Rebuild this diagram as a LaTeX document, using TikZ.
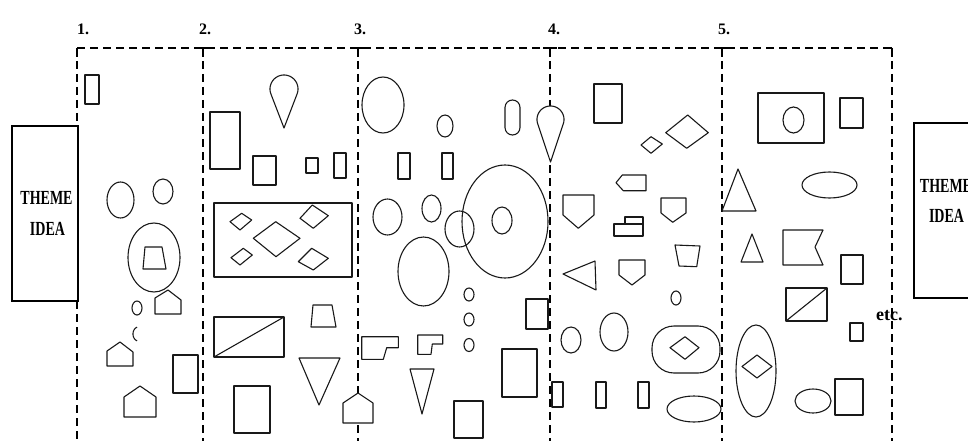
\documentclass[tikz,border=0pt]{standalone}
\usepackage{fontspec}
\setmainfont{Liberation Serif}
\newcommand\mydmd[8]{\draw[shp] (#1,#2) -- (#3,#4) -- (#5,#6) -- (#7,#8) -- cycle;}
\begin{document}
\begin{tikzpicture}[x=1pt,y=-1pt,
  shp/.style={draw=black!90, line width=1.1pt, line join=round},
  shpw/.style={shp, fill=white},
  dl/.style={draw=black, line width=1.2pt, dash pattern=on 8pt off 5pt},
  tick/.style={draw=black, line width=1.2pt},
  num/.style={font=\fontsize{16}{16}\selectfont\bfseries, anchor=base west, inner sep=0pt},
  themetxt/.style={font=\fontsize{20}{20}\selectfont\bfseries, anchor=base, inner sep=0pt, xscale=0.7},
  themebox/.style={draw=black, line width=2.5pt, fill=white}]
\useasboundingbox (0,0) rectangle (968,441);
\clip (0,0) rectangle (968,441);

% ---- column frame ----
\draw[dl] (77,48) -- (892,48);
\draw[dl] (77,48) -- (77,126);
\draw[dl] (77,301) -- (77,441);
\foreach \cx in {203,358,550,722,892} \draw[dl] (\cx,48) -- (\cx,441);
\draw[tick] (77,48) -- (84,48) (77,48) -- (77,57);
\foreach \cx in {203,358,550,722} \draw[tick] (\cx-7,48) -- (\cx+7,48) (\cx,48) -- (\cx,57);
\draw[tick] (885,48) -- (892,48) (892,48) -- (892,57);

\node[num] (n1) at (77,35) {1.};
\node[num] (n2) at (199,35) {2.};
\node[num] (n3) at (354,35) {3.};
\node[num] (n4) at (548,35) {4.};
\node[num] (n5) at (718,35) {5.};

% ---- theme boxes ----
\draw[themebox] (12,126) rectangle (78,301);
\node[themetxt] (t1) at (46.5,204) {THEME};
\node[themetxt] (i1) at (47.5,235) {IDEA};
\draw[themebox] (914,123) rectangle (990,298);
\node[themetxt] (t2) at (946,192) {THEME};
\node[themetxt] (i2) at (946.5,222) {IDEA};

\node[font=\fontsize{18}{18}\selectfont\bfseries, anchor=base west, inner sep=0pt] (etc) at (876,320) {etc.};

% ---- column 1 ----
\draw[shp] (85,75) rectangle (99,104);
\draw[shp] (120.5,200) ellipse[x radius=13.5pt, y radius=18pt];
\draw[shp] (163,191.5) ellipse[x radius=10pt, y radius=12.5pt];
\draw[shp] (154,257.5) ellipse[x radius=26pt, y radius=34.5pt];
\draw[shp] (145,247) -- (162,247) -- (166,269) -- (143,269) -- cycle;
\draw[shpw] (155,314) -- (155,298) -- (168,290) -- (181,300) -- (181,314) -- cycle;
\draw[shp] (137,308) ellipse[x radius=5pt, y radius=7pt];
\draw[shp] plot[domain=105:255, samples=30] ({138.5+5.5*cos(\x)},{334+7*sin(\x)});
\draw[shp] (107,366) -- (107,351) -- (120,342) -- (133,352) -- (133,366) -- cycle;
\draw[shp] (173,355) rectangle (198,393);
\draw[shp] (124,417) -- (124,397) -- (140,386) -- (156,397) -- (156,417) -- cycle;

% ---- column 2 ----
\draw[shpw] (284,128) -- plot[domain=159:381, samples=60] ({284+14*cos(\x)},{89+14*sin(\x)}) -- cycle;
\draw[shp, line width=2pt] (210,112) rectangle (240,169);
\draw[shp] (253,156) rectangle (276,185);
\draw[shp] (306,158) rectangle (318,173);
\draw[shp] (334,153) rectangle (346,178);
\draw[shp] (214,203) rectangle (352,277);
\mydmd{230}{221.7}{241.7}{213.3}{251.7}{220}{240}{230}
\mydmd{300}{218.3}{312.3}{205}{328.3}{215.7}{313.3}{228.3}
\mydmd{253.3}{238.3}{275.7}{221.7}{300}{238.3}{276}{256.7}
\mydmd{231}{257.7}{243.3}{248.3}{252.3}{255}{240}{265}
\mydmd{298.3}{261.7}{311.7}{248.3}{328.3}{258.3}{313.3}{270}
\draw[shp] (214,317) rectangle (284,357);
\draw[shp] (214,357) -- (284,317);
\draw[shp] (313,305) -- (332,305) -- (336,327) -- (311,327) -- cycle;
\draw[shp] (299,358) -- (340,358) -- (319,405) -- cycle;
\draw[shp] (234,386) rectangle (270,433);
\draw[shpw] (343,423) -- (343,403) -- (358,393) -- (373,403) -- (373,423) -- cycle;

% ---- column 3 ----
\draw[shp] (383,105) ellipse[x radius=21pt, y radius=28pt];
\draw[shp] (445,126) ellipse[x radius=8pt, y radius=11pt];
\draw[shp, rounded corners=7.5pt] (505,100) rectangle (520,135);
\draw[shpw] (550.5,162) -- plot[domain=161.5:378.5, samples=60] ({550.5+13.5*cos(\x)},{119.5+13.5*sin(\x)}) -- cycle;
\draw[shp] (398,153) rectangle (410,179);
\draw[shp] (442,153) rectangle (453,179);
\draw[shp] (387.5,217) ellipse[x radius=14.5pt, y radius=18pt];
\draw[shp] (431.5,208.5) ellipse[x radius=9.5pt, y radius=13.5pt];
\draw[shp] (505,221.5) ellipse[x radius=43pt, y radius=56.5pt];
\draw[shp] (502,220.5) ellipse[x radius=10pt, y radius=13.5pt];
\draw[shp] (459.5,229) ellipse[x radius=14.5pt, y radius=18pt];
\draw[shp] (423.5,271.5) ellipse[x radius=25.5pt, y radius=34.5pt];
\foreach \cy in {294.5,319.5,345} \draw[shp] (469,\cy) ellipse[x radius=5pt, y radius=6.5pt];
\draw[shp] (526,299) rectangle (548,329);
\draw[shp] (361.7,336.7) -- (398.3,336.7) -- (398.3,347.7) -- (386.7,347.7) -- (383.3,359.3) -- (361.7,359.3) -- cycle;
\draw[shp] (417.7,335) -- (442.7,335) -- (442.7,344) -- (432.3,344) -- (431,354.3) -- (417.7,354.3) -- cycle;
\draw[shp] (410,369) -- (434,369) -- (422,414) -- cycle;
\draw[shp] (454,401) rectangle (483,438);
\draw[shp] (502,349) rectangle (537,397);

% ---- column 4 ----
\draw[shp] (594,84) rectangle (622,123);
\mydmd{641}{145}{651}{136.7}{662.3}{144}{651}{153.3}
\mydmd{665.7}{132.7}{687.7}{115}{708.3}{132.7}{686.7}{148.3}
\draw[shp] (646,175) -- (622.3,175) -- (616,182.7) -- (623.3,190.7) -- (646,190.7) -- cycle;
\draw[shp] (563,195) -- (594,195) -- (594,215) -- (578.3,228.3) -- (563,215) -- cycle;
\draw[shp] (661,198) -- (686,198) -- (686,213) -- (672.7,222.3) -- (661,213) -- cycle;
\draw[shp] (625,217) rectangle (643,224);
\draw[shp] (614,224) rectangle (643,236);
\draw[shp] (675,245) -- (700,246) -- (696.7,266.7) -- (679,266) -- cycle;
\draw[shp] (563,274) -- (595,261) -- (596,290) -- cycle;
\draw[shp] (619,260) -- (645,260) -- (645,275) -- (632,285) -- (619,275) -- cycle;
\draw[shp] (676,298) ellipse[x radius=5pt, y radius=7pt];
\draw[shp] (571,340) ellipse[x radius=10pt, y radius=13pt];
\draw[shp] (614,332) ellipse[x radius=14pt, y radius=19pt];
\draw[shp, rounded corners=22pt] (652,326) rectangle (720,373);
\mydmd{670}{347.7}{685}{336.7}{699}{347.7}{685}{359.3}
\draw[shp] (552,382) rectangle (563,407);
\draw[shp] (596,382) rectangle (606,408);
\draw[shp] (638,382) rectangle (649,408);
\draw[shpw] (694,409) ellipse[x radius=27pt, y radius=13pt];

% ---- column 5 ----
\draw[shp] (758,93) rectangle (824,143);
\draw[shp] (793.5,120) ellipse[x radius=10.5pt, y radius=13pt];
\draw[shp] (840,98) rectangle (863,128);
\draw[shpw] (738,169) -- (756,211) -- (722,211) -- cycle;
\draw[shp] (829.5,185) ellipse[x radius=27.5pt, y radius=13pt];
\draw[shp] (752,234) -- (763,262) -- (741,262) -- cycle;
\draw[shp] (783,230) -- (823,230) -- (815,247) -- (823,265) -- (783,265) -- cycle;
\draw[shp] (841,255) rectangle (863,284);
\draw[shp] (786,288) rectangle (827,321);
\draw[shp] (786,321) -- (827,288);
\draw[shp] (850,323) rectangle (863,341);
\draw[shp] (756,371) ellipse[x radius=20pt, y radius=46pt];
\mydmd{742}{366.5}{757}{355}{772}{366.5}{757}{378}
\draw[shp] (813,401) ellipse[x radius=18pt, y radius=12pt];
\draw[shp] (835,379) rectangle (863,415);
\end{tikzpicture}
\end{document}
